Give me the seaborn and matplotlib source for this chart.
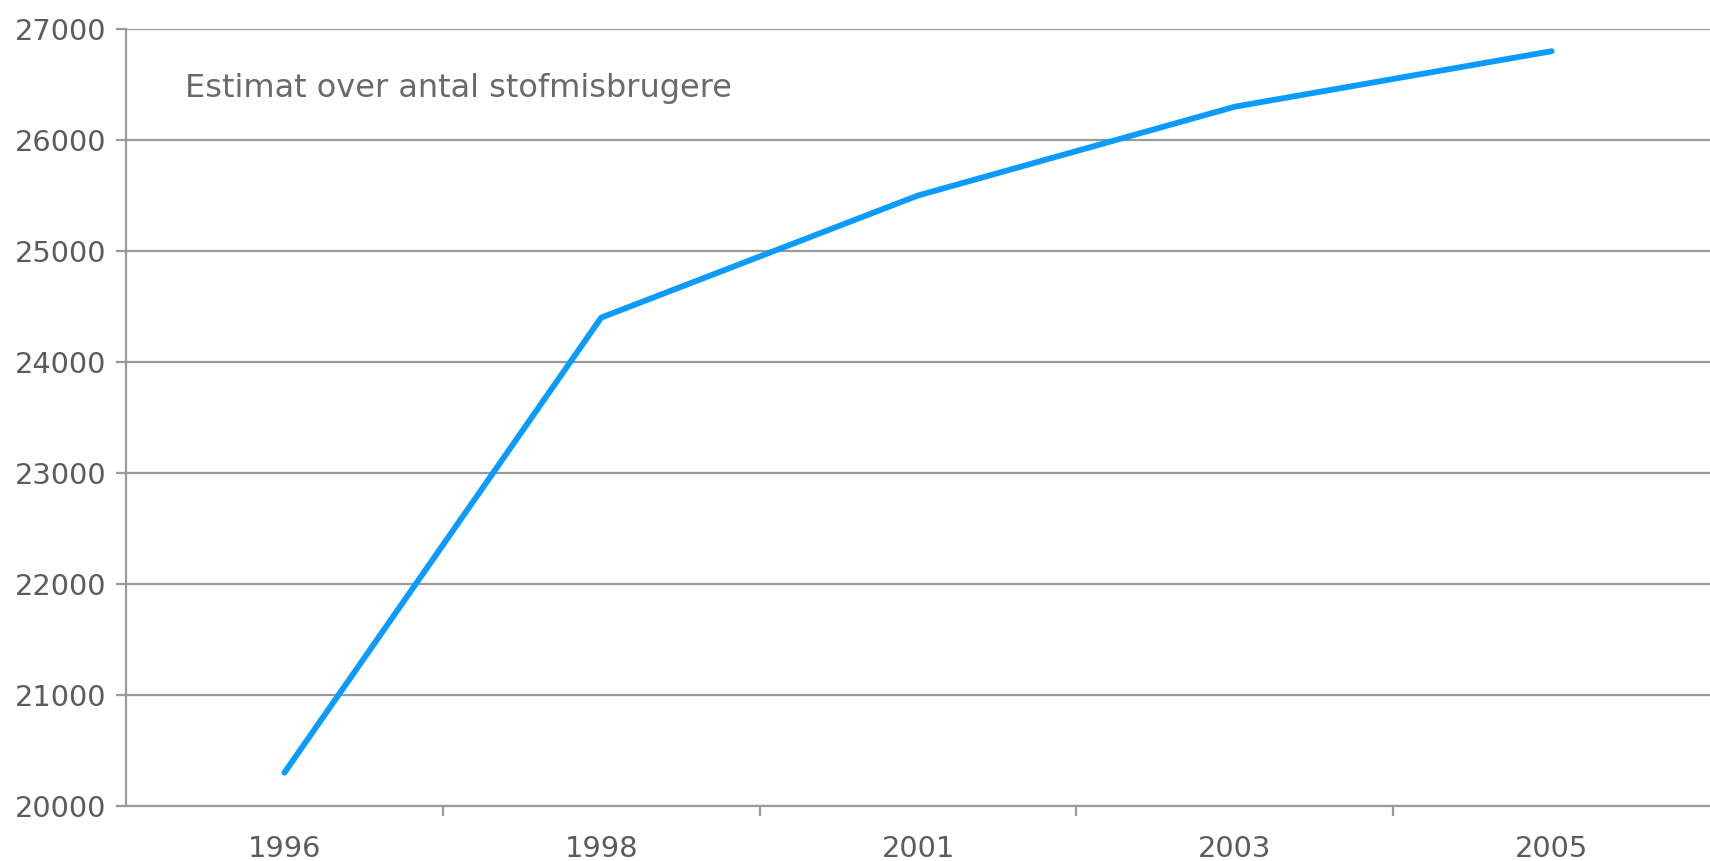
import matplotlib
matplotlib.use("Agg")
import matplotlib.pyplot as plt
from matplotlib.ticker import FixedLocator
import seaborn as sns
import pandas as pd

years = ["1996", "1998", "2001", "2003", "2005"]
users = [20300, 24400, 25500, 26300, 26800]
y_ticks = [20000, 21000, 22000, 23000, 24000, 25000, 26000, 27000]
title_text = "Estimat over antal stofmisbrugere"

grid_col = "#9a9a9a"
text_col = "#5c5c5c"
line_col = "#0a9bff"

sns.set_theme(style="white")
plt.rcParams["font.family"] = ["DejaVu Sans"]

df = pd.DataFrame({"year": years, "users": users})

fig = plt.figure(figsize=(17.10, 8.61), dpi=100)
ax = fig.add_axes([126 / 1710, 1 - 806 / 861, 1 - 126 / 1710, (806 - 29) / 861])

sns.lineplot(data=df, x="year", y="users", ax=ax, color=line_col,
             linewidth=4.2, solid_capstyle="round", sort=False)

ax.set_xlim(-0.5, len(years) - 0.5)
ax.set_ylim(y_ticks[0], y_ticks[-1])
ax.set_yticks(y_ticks)
ax.set_yticklabels([str(v) for v in y_ticks])
ax.set_xticks(range(len(years)))
ax.set_xticklabels(years)
ax.xaxis.set_minor_locator(FixedLocator([i + 0.5 for i in range(len(years) - 1)]))

ax.grid(axis="y", color=grid_col, linewidth=1.6)
ax.grid(axis="x", visible=False)
ax.set_axisbelow(True)

for side in ["top", "right"]:
    ax.spines[side].set_visible(False)
for side in ["left", "bottom"]:
    ax.spines[side].set_color(grid_col)
    ax.spines[side].set_linewidth(1.6)

ax.tick_params(axis="y", which="major", direction="out", length=7.5, width=1.6,
               color=grid_col, pad=6.5, labelsize=20.8, labelcolor=text_col, left=True)
ax.tick_params(axis="x", which="major", length=0, pad=21, labelsize=20.8,
               labelcolor=text_col)
ax.tick_params(axis="x", which="minor", direction="out", length=7, width=1.6,
               color=grid_col, bottom=True)

ax.set_xlabel("")
ax.set_ylabel("")

fig.text(185 / 1710, 1 - 89 / 861, title_text, fontsize=23, color="#6a6a6a",
         ha="left", va="center")

fig.savefig("out.png", dpi=100, facecolor="white")
